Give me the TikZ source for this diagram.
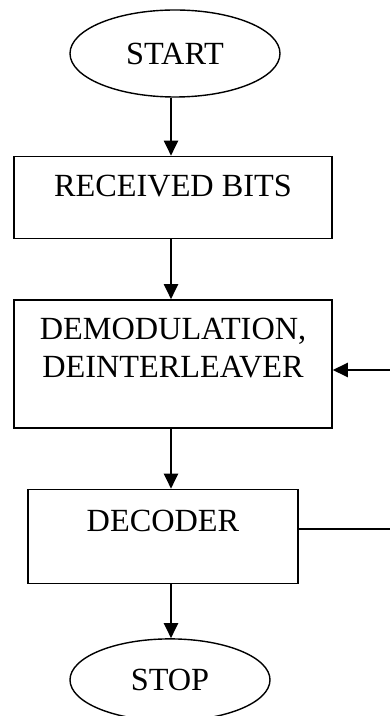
\documentclass[tikz,border=0pt]{standalone}
\usepackage{fontspec}
\setmainfont{Liberation Serif}
\usetikzlibrary{arrows.meta, positioning, shapes.geometric}
\tikzset{%
	term/.style={draw, ellipse, line width=1.4pt, inner sep=0pt},
	proc/.style={draw, rectangle, line width=1.5pt, inner sep=0pt},
	flow/.style={-{Triangle[length=15pt, width=14pt]}, line width=2pt},
	fbline/.style={line width=1.5pt}
}

\begin{document}
\begin{tikzpicture}[x=1pt, y=1pt, font=\fontsize{32.3}{37.2}\selectfont]
	\useasboundingbox (0,0) rectangle (390,716);

	\node[term, minimum width=210pt, minimum height=87pt] (start) at (175,662.5) {START};
	\node[proc, below=58pt of start, xshift=-2pt, minimum width=318pt,
		text height=40pt, text depth=42pt] (recv) {RECEIVED BITS};
	\node[proc, below=60pt of recv, minimum width=318pt, text height=40pt, text depth=88pt] (demod)
		{\begin{tabular}[t]{@{}c@{}}DEMODULATION,\\DEINTERLEAVER\end{tabular}};
	\node[proc, below=60pt of demod, xshift=-10pt, minimum width=270pt,
		text height=42pt, text depth=52pt] (decoder) {DECODER};
	\node[term, below=54pt of decoder, xshift=7pt, minimum width=200pt, minimum height=82pt] (stop) {STOP};

	% main flow
	\coordinate (axis) at (171,0);
	\draw[flow] (start.south -| axis) -- (recv.north -| axis);
	\draw[flow] (recv.south -| axis) -- (demod.north -| axis);
	\draw[flow] (demod.south -| axis) -- (decoder.north -| axis);
	\draw[flow] (decoder.south -| axis) -- (stop.north -| axis);

	% feedback
	\coordinate (fbin) at (390,346);
	\coordinate (fbout) at (390,187);
	\draw[fbline] (decoder.east |- fbout) -- (fbout);
	\draw[flow] (fbin) -- (fbin -| demod.east);
\end{tikzpicture}
\end{document}
